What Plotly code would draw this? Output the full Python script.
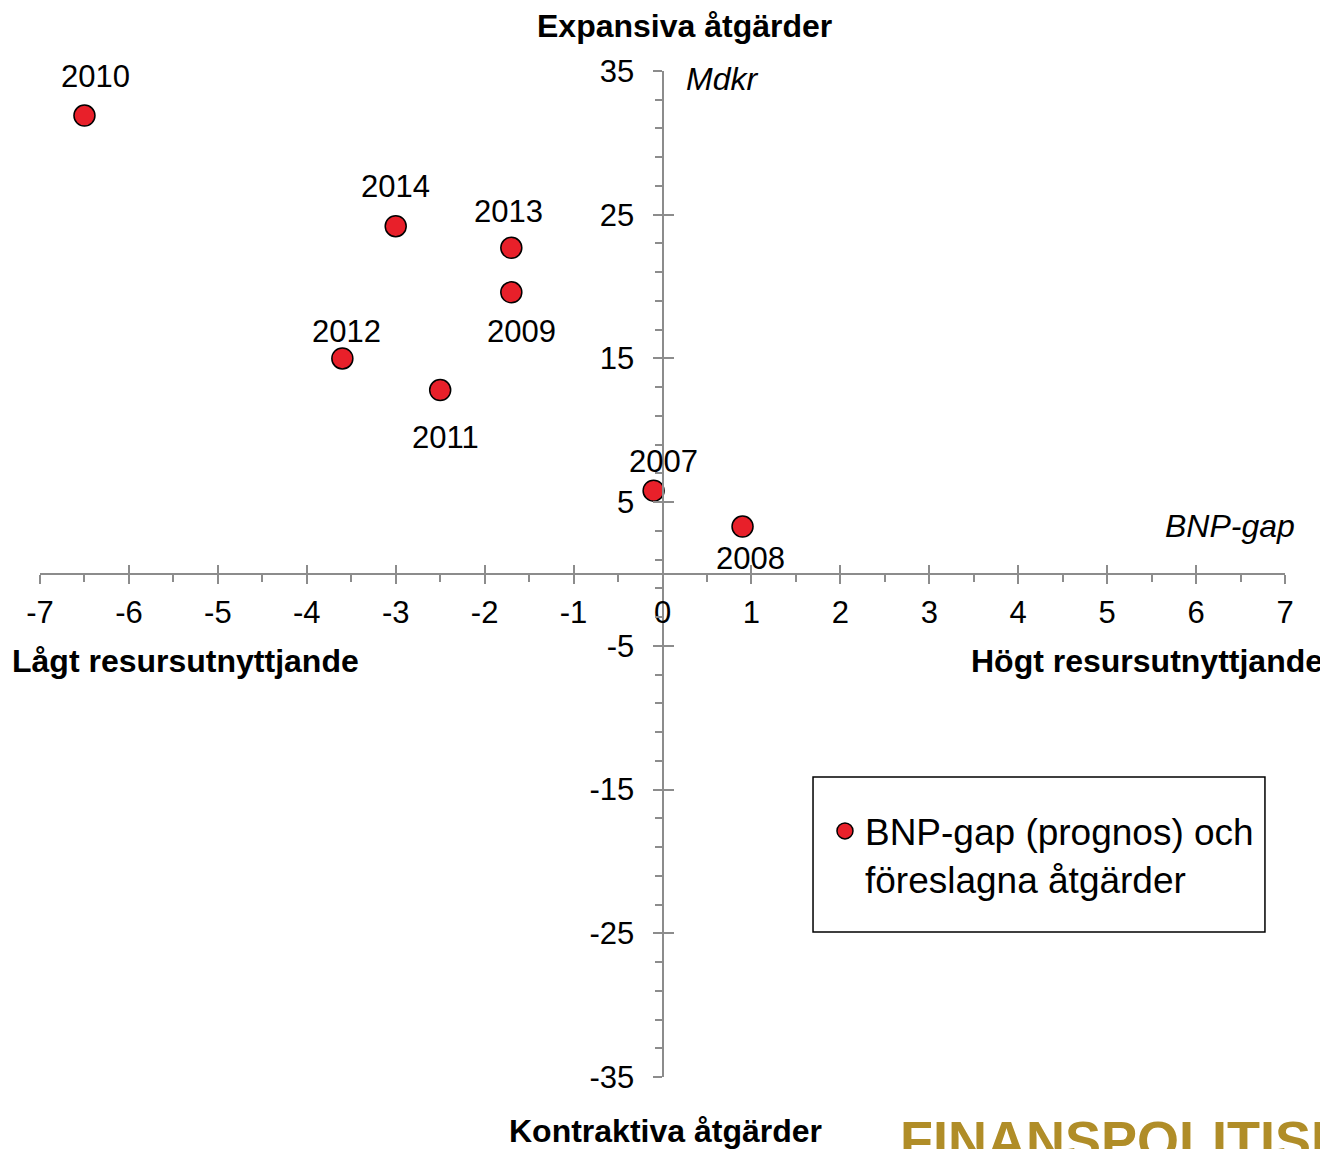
import plotly.graph_objects as go

years = ["2007", "2008", "2009", "2010", "2011", "2012", "2013", "2014"]
bnp_gap = [-0.1, 0.9, -1.7, -6.5, -2.5, -3.6, -1.7, -3.0]
atgarder = [5.8, 3.3, 19.6, 31.9, 12.8, 15.0, 22.7, 24.2]

# label offsets (pixels) relative to each point
label_dx = [10, 8, 10, 11, 5, 4, -3, 0]
label_dy = [29, -32, -39, 39, -47, 27, 36, 40]

x_ticks = list(range(-7, 8))
y_ticks = [-35, -25, -15, -5, 5, 15, 25, 35]

FONT = "Liberation Sans, Arial, sans-serif"
AX = "#8c8c8c"

fig = go.Figure()
fig.add_trace(go.Scatter(
    x=bnp_gap, y=atgarder, mode="markers",
    name="BNP-gap (prognos) och<br>föreslagna åtgärder",
    marker=dict(size=21, color="#e8202a", line=dict(color="black", width=1.5)),
))
fig.add_trace(go.Scatter(x=[None], y=[None], xaxis="x2", yaxis="y2",
                         showlegend=False, hoverinfo="skip"))

for yr, xv, yv, dx, dy in zip(years, bnp_gap, atgarder, label_dx, label_dy):
    fig.add_annotation(x=xv, y=yv, text=yr, showarrow=False, xshift=dx, yshift=dy,
                       font=dict(size=31, color="black", family=FONT))

common_x = dict(range=[-7, 7], tickvals=x_ticks, anchor="free", position=0.5,
                showgrid=False, zeroline=False, tickcolor=AX, tickwidth=2)
common_y = dict(range=[-35, 35], tickvals=y_ticks, anchor="free", position=0.5,
                showgrid=False, zeroline=False, tickcolor=AX, tickwidth=2)

fig.update_layout(
    width=1320, height=1141,
    margin=dict(l=32, r=43, t=63, b=72),
    paper_bgcolor="white", plot_bgcolor="white",
    font=dict(family=FONT, color="black", size=31),
    xaxis=dict(**common_x, ticktext=[str(v) for v in x_ticks], ticks="outside",
               ticklen=9, showline=True,
               linecolor=AX, linewidth=2, ticklabelstandoff=2,
               tickfont=dict(size=31, family=FONT, color="black"),
               minor=dict(dtick=0.5, tick0=0, ticks="outside", ticklen=7,
                          tickcolor=AX, tickwidth=2)),
    xaxis2=dict(**common_x, overlaying="x", ticks="inside", ticklen=9,
                showticklabels=False, showline=False),
    yaxis=dict(**common_y, ticktext=[str(v) for v in y_ticks], ticks="outside",
               ticklen=9, showline=True,
               linecolor=AX, linewidth=2, ticklabelstandoff=12,
               tickfont=dict(size=31, family=FONT, color="black"),
               minor=dict(dtick=2, tick0=1, ticks="outside", ticklen=7,
                          tickcolor=AX, tickwidth=2)),
    yaxis2=dict(**common_y, overlaying="y", ticks="inside", ticklen=10,
                showticklabels=False, showline=False),
    showlegend=True,
    legend=dict(x=0.6305, y=0.275, xanchor="left", yanchor="top",
                bgcolor="rgba(0,0,0,0)", borderwidth=0, valign="top",
                font=dict(size=37, family=FONT, color="black")),
)

fig.add_shape(type="rect", xref="paper", yref="paper",
              x0=0.6209, x1=0.9839, y0=0.1441, y1=0.2982,
              line=dict(color="black", width=1.5), fillcolor="rgba(0,0,0,0)")

def txt(text, x, y, xanchor="center", yanchor="middle", bold=False, italic=False, size=32, color="black"):
    t = text
    if bold:
        t = "<b>" + t + "</b>"
    if italic:
        t = "<i>" + t + "</i>"
    fig.add_annotation(xref="paper", yref="paper", x=x, y=y, text=t, showarrow=False,
                       xanchor=xanchor, yanchor=yanchor,
                       font=dict(size=size, family=FONT, color=color))

def px(xp):
    return (xp - 40) / 1245

def py(yp):
    return (1077 - yp) / 1006

txt("Expansiva åtgärder", px(684), py(26), bold=True)
txt("Kontraktiva åtgärder", px(665), py(1131), bold=True)
txt("Lågt resursutnyttjande", px(10), py(661), xanchor="left", bold=True)
txt("Högt resursutnyttjande", px(1325), py(661), xanchor="right", bold=True)
txt("Mdkr", px(684), py(79), xanchor="left", italic=True)
txt("BNP-gap", px(1297), py(526), xanchor="right", italic=True)
txt("<b>FINANSPOLITISKA</b>", px(898), py(1108), xanchor="left", yanchor="top",
    size=54, color="#b08d28")

fig.write_html("out.html")
